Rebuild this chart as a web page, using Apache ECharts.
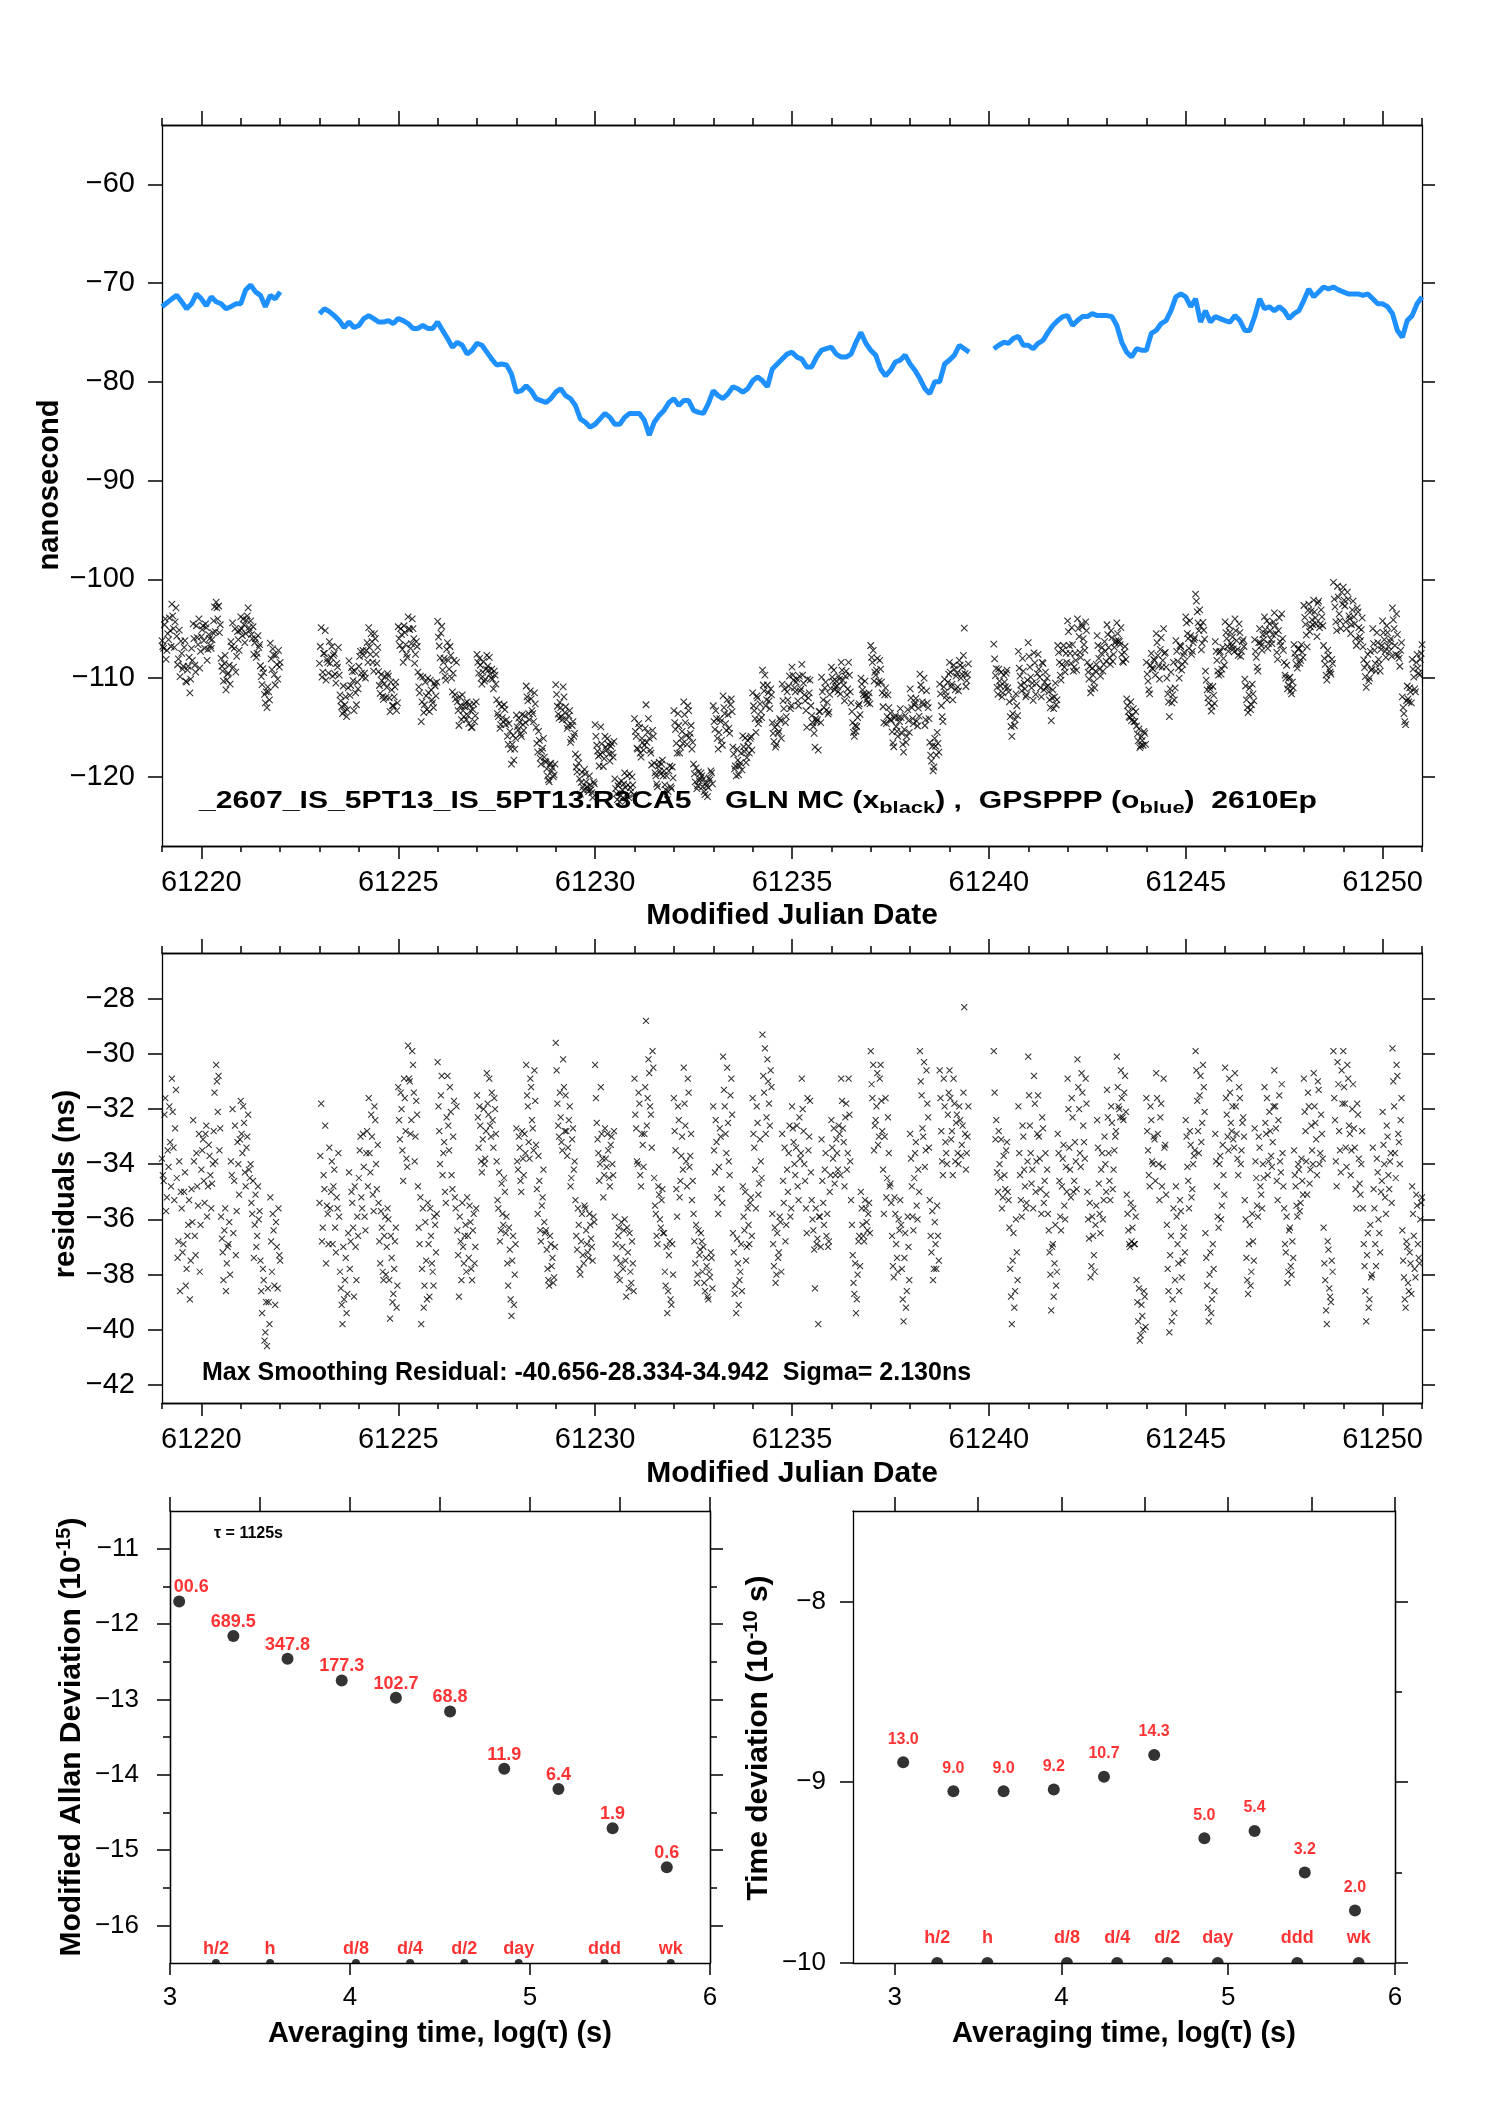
<!DOCTYPE html>
<html><head><meta charset="utf-8">
<script src="https://cdn.jsdelivr.net/npm/echarts@6/dist/echarts.min.js"></script>
<style>html,body{margin:0;padding:0;background:#fff}#c{width:1488px;height:2105px}</style>
</head><body><div id="c"></div>
<script>
const FONT = '"Liberation Sans", Arial, Helvetica, sans-serif';
const N = null;

// ---- time grid (MJD) ----
const mjdStart = 61219, mjdEnd = 61251;
const blueStep = 1 / 8;      // GPSPPP samples, every 3 h
const residStep = 1 / 24;    // residual samples, every 1 h (two interleaved sets, half an hour apart)

// ---- GPSPPP (blue), ns, one row per day ----
const blueNs = [
-72.4,-72.0,-71.6,-71.25,-71.9,-72.6,-72.1,-71.1,
-71.6,-72.3,-71.4,-71.9,-72.1,-72.6,-72.4,-72.1,
-72.1,-70.7,-70.2,-70.9,-71.25,-72.4,-71.25,-71.6,
-70.9,N,N,N,N,N,N,N,
-73.1,-72.6,-72.9,-73.3,-73.8,-74.5,-73.95,-74.5,
-74.3,-73.6,-73.3,-73.6,-73.95,-73.95,-73.8,-74.1,
-73.6,-73.8,-74.1,-74.6,-74.6,-74.3,-74.6,-74.6,
-73.95,-74.8,-75.6,-76.5,-76.0,-76.3,-77.2,-76.8,
-76.1,-76.3,-77.0,-77.7,-78.3,-78.2,-78.3,-79.2,
-81.05,-80.9,-80.4,-80.9,-81.7,-81.9,-82.1,-81.7,
-81.05,-80.7,-81.4,-81.7,-82.4,-83.75,-84.1,-84.6,
-84.3,-83.75,-83.2,-83.6,-84.3,-84.3,-83.6,-83.2,
-83.2,-83.2,-83.9,-85.4,-84.1,-83.4,-82.9,-82.1,
-81.7,-82.4,-81.9,-81.9,-82.9,-83.1,-83.2,-82.2,
-80.9,-81.4,-81.7,-81.2,-80.5,-80.7,-81.05,-80.7,
-79.9,-79.5,-79.9,-80.5,-78.7,-78.2,-77.7,-77.2,
-77.0,-77.5,-77.7,-78.5,-78.5,-77.5,-76.8,-76.65,
-76.5,-77.2,-77.5,-77.5,-77.2,-76.0,-75.0,-76.1,
-76.8,-77.3,-78.7,-79.4,-78.85,-78.0,-77.8,-77.3,
-78.2,-78.85,-79.7,-80.7,-81.2,-80.0,-80.0,-78.2,
-77.8,-77.3,-76.3,-76.65,-77.0,N,N,N,
N,-76.65,-76.3,-76.0,-76.1,-75.6,-75.4,-76.3,
-76.3,-76.65,-76.1,-75.8,-75.0,-74.3,-73.8,-73.4,
-73.3,-74.3,-73.8,-73.4,-73.4,-73.1,-73.3,-73.3,
-73.3,-73.4,-74.3,-76.0,-77.0,-77.5,-76.65,-76.8,
-76.8,-75.1,-74.8,-74.1,-73.8,-72.8,-71.4,-71.1,
-71.4,-72.4,-71.6,-73.95,-72.8,-73.95,-73.4,-73.6,
-73.8,-73.95,-73.3,-73.8,-74.8,-74.8,-73.4,-71.6,
-72.6,-72.4,-72.8,-72.4,-72.8,-73.6,-73.1,-72.8,
-71.75,-70.6,-71.4,-70.9,-70.4,-70.6,-70.4,-70.7,
-70.9,-71.1,-71.1,-71.1,-71.25,-71.1,-71.6,-72.1,
-72.1,-72.4,-73.1,-74.8,-75.5,-73.8,-73.3,-72.1,
-71.4
];

// ---- residuals (GLN MC minus GPSPPP), ns, on the hour, one row per day ----
const residNs = [
-33.8,-34.6,-31.6,-35.2,-34.1,-33.2,-30.9,-33.4,-32.7,-34.5,-36.8,-38.6,-35.6,-36.9,-34.3,-37.8,-36.2,-38.9,-34.9,-32.4,-36.6,-33.6,-35.5,-37.9,
-34.2,-33.1,-35.4,-32.6,-34.8,-33.7,-35.6,-34.0,-31.4,-30.4,-32.1,-33.5,-35.9,-37.2,-36.4,-38.6,-37.0,-36.1,-33.9,-32.0,-34.6,-37.3,-33.2,-35.1,
-31.7,-33.6,-32.5,-34.8,-33.0,-34.2,-34.0,-35.8,-37.4,-35.1,-36.6,-36.0,-37.5,-39.4,-38.2,-40.1,-40.6,-39.0,-35.2,-37.9,-36.4,-39.1,-37.0,-35.6,
-37.5,N,N,N,N,N,N,N,N,N,N,N,N,N,N,N,N,N,N,N,N,N,N,N,
-35.4,-31.8,-36.3,-34.9,-37.6,-35.8,-33.4,-35.0,-36.9,-34.2,-37.2,-35.6,-35.9,-38.5,-39.8,-38.9,-37.4,-38.7,-34.3,-36.8,-35.4,-38.8,-37.0,-35.9,
-34.5,-33.0,-35.6,-34.1,-36.4,-32.8,-31.6,-34.3,-33.0,-35.7,-32.4,-34.9,-35.4,-37.6,-36.3,-38.2,-35.9,-37.0,-36.0,-39.6,-37.4,-38.7,-36.8,-39.2,
-31.2,-33.1,-32.0,-34.6,-31.6,-33.8,-29.7,-31.0,-32.4,-30.4,-33.9,-31.7,-34.8,-36.9,-39.8,-35.6,-38.4,-37.5,-35.4,-38.8,-36.6,-37.9,-35.9,-37.2,
-30.3,-32.8,-31.5,-34.4,-33.2,-35.4,-30.8,-33.5,-32.1,-34.9,-31.7,-35.6,-36.4,-38.8,-36.8,-35.4,-37.6,-36.2,-35.2,-37.4,-36.1,-38.2,-35.8,-37.0,
-31.5,-33.4,-32.6,-34.3,-32.0,-33.8,-30.7,-32.2,-32.6,-31.4,-33.4,-32.0,-33.9,-35.6,-36.8,-34.7,-36.2,-35.0,-35.9,-38.4,-37.1,-39.5,-36.6,-38.0,
-32.7,-34.2,-33.4,-35.0,-33.8,-32.9,-30.4,-31.9,-33.8,-31.2,-32.7,-30.6,-33.3,-35.8,-34.6,-36.8,-35.2,-36.1,-36.4,-37.8,-38.4,-36.9,-37.4,-38.1,
-29.6,-31.8,-33.0,-32.3,-33.5,-31.2,-31.5,-33.7,-32.4,-34.8,-33.1,-34.2,-35.3,-37.1,-36.2,-38.0,-35.8,-37.6,-35.6,-36.9,-37.4,-36.2,-37.0,-35.9,
-30.4,-32.5,-33.6,-34.0,-32.9,-35.2,-32.7,-34.1,-33.5,-34.8,-33.0,-34.4,-35.9,-37.4,-36.6,-38.2,-36.1,-37.8,-36.0,-38.8,-37.2,-36.5,-38.3,-37.6,
-30.9,-32.7,-34.0,-31.8,-34.8,-33.3,-32.9,-28.8,-31.6,-30.7,-32.2,-29.9,-34.5,-35.8,-36.9,-35.1,-36.3,-34.9,-36.5,-38.4,-39.4,-37.3,-38.9,-36.9,
-31.6,-33.5,-35.9,-32.4,-34.6,-33.0,-30.5,-32.6,-34.8,-31.4,-33.7,-35.3,-35.8,-37.6,-38.3,-36.4,-37.1,-36.8,-37.0,-38.6,-37.7,-38.9,-38.1,-37.4,
-31.9,-34.3,-33.2,-35.8,-32.7,-34.9,-30.1,-31.9,-33.6,-32.5,-34.4,-30.9,-36.5,-38.7,-39.4,-37.6,-38.2,-36.9,-34.8,-36.4,-37.5,-35.6,-36.9,-35.2,
-31.6,-33.4,-35.6,-32.5,-34.7,-33.9,-29.3,-31.4,-32.9,-30.2,-31.8,-30.6,-35.8,-37.7,-38.3,-36.5,-37.2,-36.1,-32.9,-35.4,-36.8,-34.2,-33.6,-35.9,
-31.9,-33.2,-34.4,-32.6,-35.3,-33.8,-30.9,-32.8,-34.6,-36.5,-33.5,-31.7,-35.3,-36.4,-38.5,-36.9,-39.8,-35.9,-33.1,-35.4,-34.2,-36.6,-37.0,-35.0,
-32.4,-33.8,-34.7,-33.1,-34.2,-32.9,-30.9,-32.7,-34.8,-31.8,-33.6,-32.2,-35.3,-37.3,-38.7,-39.4,-38.0,-36.6,-35.0,-36.2,-36.8,-35.6,-36.4,-35.4,
-29.9,-31.6,-33.5,-32.4,-30.7,-33.0,-30.4,-32.8,-35.8,-31.6,-34.5,-33.6,-34.7,-36.6,-38.1,-35.8,-37.4,-36.0,-35.3,-37.8,-39.7,-36.5,-38.6,-37.0,
-32.9,-34.8,-36.4,-33.6,-35.5,-34.2,-29.9,-31.5,-33.0,-34.1,-30.6,-32.3,-35.3,-37.2,-38.2,-36.1,-37.8,-36.6,-30.6,-32.8,-34.4,-31.9,-33.6,-32.2,
-30.6,-33.1,-34.4,-31.8,-32.5,-33.6,-31.9,-33.7,-32.6,-28.3,-34.2,-33.0,N,N,N,N,N,N,N,N,N,N,N,N,
N,N,N,-29.9,-33.1,-34.3,-32.8,-34.5,-35.6,-33.7,-34.9,-33.2,-35.3,-37.8,-39.8,-36.5,-38.6,-37.2,-31.9,-34.4,-35.9,-33.0,-34.8,-35.4,
-30.1,-32.6,-34.7,-35.6,-31.8,-33.9,-31.5,-33.8,-35.8,-32.7,-34.6,-35.1,-35.8,-37.2,-39.3,-36.9,-37.6,-38.4,-32.9,-34.6,-36.4,-33.8,-35.5,-34.1,
-30.9,-33.4,-35.2,-32.3,-34.6,-33.9,-30.2,-32.0,-34.1,-31.4,-33.2,-30.9,-35.0,-36.7,-38.1,-35.9,-37.3,-36.2,-32.4,-34.7,-36.5,-33.6,-35.3,-34.0,
-31.3,-33.6,-35.3,-32.5,-34.2,-33.0,-30.1,-31.9,-32.3,-31.6,-32.4,-30.8,-35.1,-36.4,-37.0,-36.8,-35.6,-36.9,-38.2,-39.7,-40.4,-39.1,-40.0,-38.8,
-31.6,-33.5,-34.8,-32.4,-34.0,-33.1,-30.7,-32.9,-35.3,-31.8,-34.1,-33.4,-35.1,-37.8,-40.1,-36.6,-38.9,-39.4,-34.8,-36.9,-38.6,-35.7,-37.5,-36.3,
-32.4,-34.1,-35.6,-33.3,-34.9,-33.7,-29.9,-31.7,-33.6,-30.8,-32.5,-31.2,-36.5,-38.4,-39.7,-37.2,-38.9,-37.8,-32.9,-34.8,-36.3,-33.7,-35.5,-34.4,
-30.5,-32.2,-33.5,-31.4,-32.8,-33.1,-30.7,-32.9,-34.4,-31.6,-33.5,-32.3,-35.3,-37.4,-38.7,-36.2,-37.9,-36.8,-32.7,-34.5,-35.9,-33.4,-35.1,-34.0,
-31.2,-32.9,-34.4,-32.1,-33.7,-33.2,-30.6,-32.7,-35.3,-31.5,-34.3,-33.6,-35.6,-37.2,-38.3,-36.4,-37.7,-36.8,-33.5,-34.8,-35.9,-34.2,-35.4,-34.6,
-30.9,-32.8,-35.1,-31.9,-34.2,-33.5,-30.7,-32.5,-34.4,-31.3,-33.6,-32.9,-36.3,-38.2,-39.8,-37.1,-38.8,-37.5,-29.9,-32.4,-34.8,-31.1,-33.5,-30.6,
-29.9,-31.8,-34.1,-30.9,-32.9,-33.5,-31.1,-33.4,-35.6,-32.2,-34.7,-34.0,-35.6,-37.7,-39.7,-36.5,-38.9,-38.1,-33.4,-35.6,-37.7,-34.3,-36.5,-35.0,
-32.1,-34.0,-35.8,-33.0,-34.9,-33.6,-29.8,-31.9,-34.5,-30.8,-33.2,-32.4,-36.4,-38.1,-39.2,-37.0,-38.6,-37.6,-34.8,-36.6,-38.1,-35.5,-37.4,-36.0,
-35.2
];

// ---- residuals on the half hour, one row per day ----
const residNsHalf = [
-34.4,-32.2,-35.7,-33.5,-31.9,-34.8,-32.1,-35.3,-31.3,-37.4,-33.9,-35.0,-37.2,-35.0,-38.4,-36.6,-35.3,-37.5,-36.1,-33.9,-37.3,-34.8,-32.9,-36.2,
-33.5,-34.6,-32.9,-35.9,-33.3,-34.4,-34.7,-32.8,-33.9,-31.0,-30.8,-32.7,-36.7,-38.2,-35.6,-37.6,-36.9,-38.0,-34.4,-36.5,-32.6,-35.7,-34.0,-33.1,
-32.9,-31.9,-34.3,-33.4,-32.2,-34.5,-35.4,-34.6,-36.2,-37.0,-34.8,-35.7,-38.6,-37.8,-40.4,-39.0,-38.5,-39.8,-36.8,-35.8,-38.4,-36.1,-38.5,-37.3,
N,N,N,N,N,N,N,N,N,N,N,N,N,N,N,N,N,N,N,N,N,N,N,N,
-33.7,-36.8,-34.4,-32.6,-35.5,-36.9,-35.6,-33.9,-34.8,-36.3,-35.2,-33.6,-37.9,-39.1,-37.0,-38.2,-39.4,-36.5,-37.8,-35.0,-36.3,-34.8,-38.2,-36.6,
-33.5,-35.2,-32.9,-35.9,-33.6,-34.8,-33.6,-32.2,-35.1,-31.9,-34.0,-33.3,-36.8,-35.7,-37.9,-36.6,-38.0,-35.6,-38.2,-36.6,-39.0,-37.8,-36.3,-38.4,
-32.4,-31.4,-33.5,-30.9,-32.8,-34.1,-30.9,-32.9,-29.9,-31.4,-33.0,-32.2,-36.3,-35.2,-37.8,-39.2,-36.1,-38.9,-36.9,-35.6,-37.6,-38.4,-36.2,-35.8,
-31.9,-34.0,-30.8,-33.6,-35.0,-32.3,-32.6,-31.2,-34.4,-33.0,-35.2,-31.9,-37.3,-35.9,-38.2,-37.0,-36.6,-37.9,-36.6,-35.5,-37.8,-36.4,-37.6,-35.6,
-32.3,-31.9,-33.9,-33.1,-34.0,-32.8,-31.8,-30.9,-33.0,-32.4,-31.6,-32.9,-35.3,-34.3,-36.4,-35.8,-34.5,-36.5,-37.6,-36.3,-38.9,-37.5,-39.1,-36.9,
-33.9,-33.0,-34.6,-32.8,-34.4,-33.6,-31.5,-33.2,-30.9,-32.4,-33.5,-31.7,-34.9,-33.7,-36.4,-35.5,-34.2,-36.5,-37.1,-38.2,-36.6,-37.7,-38.3,-37.0,
-30.6,-32.6,-31.4,-33.2,-30.2,-32.8,-32.8,-33.4,-31.9,-34.5,-32.7,-33.9,-36.6,-35.6,-37.8,-36.8,-37.3,-35.5,-36.4,-37.2,-35.8,-36.7,-37.5,-36.1,
-31.6,-33.1,-34.6,-31.2,-33.8,-34.4,-33.8,-32.9,-34.5,-33.3,-34.0,-32.8,-36.9,-38.0,-36.3,-37.6,-37.0,-36.4,-37.5,-36.3,-38.5,-37.9,-36.8,-38.6,
-32.2,-33.9,-31.4,-34.4,-32.9,-34.1,-31.2,-32.6,-30.2,-31.9,-33.4,-30.5,-35.5,-36.6,-34.8,-36.0,-35.3,-36.5,-37.9,-37.0,-38.6,-36.8,-39.1,-38.0,
-32.8,-34.9,-31.9,-35.2,-33.7,-34.2,-31.8,-33.9,-30.9,-34.1,-32.9,-34.6,-36.8,-36.2,-38.0,-37.3,-36.5,-37.9,-38.3,-37.4,-38.8,-37.9,-37.2,-38.5,
-33.5,-32.4,-35.2,-34.1,-33.0,-35.4,-31.3,-32.9,-30.5,-33.9,-31.5,-32.2,-37.2,-38.4,-36.7,-39.1,-37.9,-38.6,-35.9,-35.0,-37.0,-36.2,-35.4,-36.6,
-32.9,-34.2,-31.9,-35.1,-33.1,-34.5,-30.8,-29.8,-32.3,-31.0,-32.6,-31.2,-36.9,-36.3,-38.0,-37.4,-35.9,-37.9,-34.6,-33.4,-36.2,-35.0,-32.6,-35.6,
-32.7,-34.0,-33.4,-34.8,-32.3,-33.6,-32.0,-34.0,-35.6,-31.6,-33.0,-34.3,-36.0,-37.1,-35.6,-36.7,-35.9,-37.0,-34.6,-36.2,-33.6,-35.8,-36.8,-34.4,
-33.4,-32.7,-34.4,-33.6,-32.6,-34.4,-31.7,-33.2,-32.3,-34.2,-30.9,-33.9,-36.2,-38.3,-37.6,-38.9,-36.8,-37.7,-35.6,-36.6,-35.3,-36.1,-35.8,-36.5,
-31.1,-30.4,-32.6,-31.9,-33.3,-30.9,-31.7,-34.2,-33.0,-35.2,-32.3,-34.8,-35.4,-37.7,-35.2,-36.9,-37.9,-36.4,-36.2,-38.9,-37.4,-39.2,-35.9,-38.2,
-33.8,-35.9,-34.5,-33.2,-36.0,-35.0,-31.0,-32.7,-30.3,-33.5,-31.8,-33.4,-36.6,-35.7,-37.8,-36.9,-35.5,-37.5,-31.6,-33.9,-30.9,-33.2,-34.0,-31.4,
-31.6,-32.8,-30.9,-33.9,-32.2,-34.0,-32.4,-33.3,-31.4,-32.9,-33.6,-31.9,N,N,N,N,N,N,N,N,N,N,N,N,
N,N,N,-31.4,-32.4,-35.0,-34.0,-33.1,-35.2,-34.4,-33.5,-35.0,-36.3,-38.8,-37.5,-39.2,-36.0,-38.2,-33.6,-35.3,-32.6,-34.2,-35.6,-33.9,
-31.5,-33.6,-34.2,-30.8,-35.0,-32.9,-33.0,-34.9,-32.3,-35.4,-33.6,-34.2,-36.4,-38.0,-37.0,-38.8,-36.2,-37.9,-33.6,-35.9,-34.8,-33.3,-36.0,-35.0,
-32.0,-34.2,-31.6,-35.0,-33.2,-34.9,-31.2,-33.6,-30.7,-32.6,-33.8,-31.8,-36.0,-35.4,-37.7,-36.6,-37.9,-35.5,-33.4,-35.8,-34.2,-36.0,-33.0,-35.0,
-32.3,-34.6,-31.9,-34.9,-33.5,-32.8,-31.2,-32.0,-30.6,-32.3,-31.4,-32.1,-35.8,-36.9,-35.4,-36.3,-36.9,-35.9,-39.0,-38.5,-40.2,-39.5,-38.6,-39.9,
-32.8,-34.4,-31.9,-33.9,-33.0,-34.6,-31.6,-34.0,-32.3,-34.8,-30.9,-33.3,-36.2,-38.6,-37.3,-39.7,-35.6,-38.2,-35.9,-37.6,-35.3,-38.1,-36.6,-37.2,
-33.0,-34.6,-32.8,-35.2,-34.0,-33.5,-30.6,-32.8,-31.5,-33.2,-30.4,-32.1,-37.4,-39.2,-38.0,-39.4,-36.9,-38.6,-33.9,-35.9,-34.0,-36.0,-33.3,-35.1,
-31.6,-33.0,-30.9,-32.5,-31.9,-33.4,-31.9,-33.8,-31.2,-34.0,-32.5,-33.0,-36.0,-38.2,-36.9,-38.4,-35.8,-37.5,-33.9,-35.5,-33.0,-34.8,-35.6,-34.5,
-32.5,-31.6,-33.9,-32.8,-34.1,-31.9,-31.9,-34.6,-32.4,-33.9,-31.1,-34.8,-36.9,-35.9,-37.9,-36.3,-38.0,-37.4,-34.4,-35.5,-34.0,-35.7,-33.8,-35.1,
-32.1,-33.9,-31.4,-34.7,-32.6,-34.0,-31.9,-33.1,-31.0,-34.0,-32.2,-33.8,-37.6,-39.3,-36.8,-38.5,-39.0,-37.9,-31.6,-33.9,-30.3,-32.8,-34.3,-31.8,
-31.2,-33.4,-30.4,-32.6,-34.4,-32.0,-32.7,-34.9,-31.8,-33.8,-35.1,-32.8,-36.9,-38.6,-37.3,-39.2,-36.2,-38.0,-34.9,-36.9,-33.8,-36.0,-37.2,-34.6,
-33.3,-35.2,-32.6,-34.4,-33.9,-35.4,-31.0,-33.6,-30.4,-32.9,-34.0,-31.6,-37.5,-38.9,-36.8,-38.3,-37.2,-38.7,-35.8,-37.8,-35.1,-36.9,-37.6,-35.4
];

// ---- stability plots ----
const logTau = [3.051, 3.352, 3.653, 3.954, 4.255, 4.556, 4.857, 5.158, 5.459, 5.760];
const modAdev = [-11.70, -12.16, -12.46, -12.75, -12.98, -13.16, -13.92, -14.19, -14.71, -15.23];
const modAdevLabels = ['00.6', '689.5', '347.8', '177.3', '102.7', '68.8', '11.9', '6.4', '1.9', '0.6'];
const tdev = [-8.89, -9.05, -9.05, -9.04, -8.97, -8.85, -9.31, -9.27, -9.50, -9.71];
const tdevLabels = ['13.0', '9.0', '9.0', '9.2', '10.7', '14.3', '5.0', '5.4', '3.2', '2.0'];
const markNames = ['h/2', 'h', 'd/8', 'd/4', 'd/2', 'day', 'ddd', 'wk'];
const markLogTau = [3.255, 3.556, 4.033, 4.334, 4.635, 4.937, 5.414, 5.782];

// ---- tick values ----
const mjdMajor = [61220, 61225, 61230, 61235, 61240, 61245, 61250];
const mjdMinor = []; for (let d = mjdStart; d <= mjdEnd; d++) mjdMinor.push(d);
const nsTicks = [-120, -110, -100, -90, -80, -70, -60];
const residTicks = [-42, -40, -38, -36, -34, -32, -30, -28];
const adevTicks = [-16, -15, -14, -13, -12, -11];
const adevHalf = [-15.5, -14.5, -13.5, -12.5, -11.5];
const tdevTicks = [-10, -9, -8];
const tdevHalf = [-9.5, -8.5];
const logMajor = [3, 4, 5, 6];
const logHalf = [3, 3.5, 4, 4.5, 5, 5.5, 6];

// ---- build point lists ----
const bluePts = blueNs.map((v, k) => [mjdStart + k * blueStep, v == null ? '-' : v]);
const residPts = [], blackPts = [];
function addResid(arr, shift) {
  arr.forEach((r, i) => {
    if (r == null) return;
    const t = mjdStart + (i + shift) * residStep;
    residPts.push([t, r]);
    const b = blueNs[Math.floor(i / 3)];
    if (b != null) blackPts.push([t, +(b + r).toFixed(2)]);
  });
}
addResid(residNs, 0);
addResid(residNsHalf, 0.5);

const minusFmt = v => (v < 0 ? '\u2212' : '') + Math.abs(v);
const lineSt = { color: '#000', width: 1.3 };
function axis(gridIndex, position, min, max, ticks, len, label) {
  return {
    type: 'value', gridIndex, position, min, max,
    splitLine: { show: false }, minorTick: { show: false },
    axisLine: { show: true, onZero: false, lineStyle: lineSt },
    axisTick: ticks ? { show: true, inside: false, length: len, customValues: ticks, lineStyle: { color: '#000', width: 1.5 } } : { show: false },
    axisLabel: label ? Object.assign({ show: true, customValues: ticks, color: '#000', fontFamily: FONT }, label) : { show: false }
  };
}
const mjdLabel = { fontSize: 29, margin: 22, formatter: v => String(v) };

const xAxis = [
  axis(0, 'bottom', mjdStart, mjdEnd, mjdMajor, 13, mjdLabel),   //0
  axis(0, 'bottom', mjdStart, mjdEnd, mjdMinor, 6),              //1
  axis(0, 'top', mjdStart, mjdEnd, mjdMajor, 14),                //2
  axis(0, 'top', mjdStart, mjdEnd, mjdMinor, 7),                 //3
  axis(1, 'bottom', mjdStart, mjdEnd, mjdMajor, 13, mjdLabel),   //4
  axis(1, 'bottom', mjdStart, mjdEnd, mjdMinor, 6),              //5
  axis(1, 'top', mjdStart, mjdEnd, mjdMajor, 14),                //6
  axis(1, 'top', mjdStart, mjdEnd, mjdMinor, 7),                 //7
  axis(2, 'bottom', 3, 6, logMajor, 12, { fontSize: 26, margin: 22 }), //8
  axis(2, 'top', 3, 6, logHalf, 14),                             //9
  axis(3, 'bottom', 2.75, 6, logMajor, 12, { fontSize: 26, margin: 22 }), //10
  axis(3, 'top', 2.75, 6, logHalf, 14)                           //11
];
const yAxis = [
  axis(0, 'left', -127, -54, nsTicks, 14, { fontSize: 29, margin: 27, formatter: minusFmt }), //0
  axis(0, 'right', -127, -54, nsTicks, 13),                       //1
  axis(1, 'left', -42.66, -26.34, residTicks, 14, { fontSize: 29, margin: 27, formatter: minusFmt }), //2
  axis(1, 'right', -42.66, -26.34, residTicks, 13),               //3
  axis(2, 'left', -16.5, -10.5, adevTicks, 13, { fontSize: 26, margin: 31, formatter: minusFmt }), //4
  axis(2, 'left', -16.5, -10.5, adevHalf, 7),                     //5
  axis(2, 'right', -16.5, -10.5, adevTicks, 13),                  //6
  axis(2, 'right', -16.5, -10.5, adevHalf, 7),                    //7
  axis(3, 'left', -10, -7.5, tdevTicks, 13, { fontSize: 26, margin: 27, formatter: minusFmt }), //8
  axis(3, 'right', -10, -7.5, tdevTicks, 13),                     //9
  axis(3, 'right', -10, -7.5, tdevHalf, 7)                        //10
];

const grid = [
  { left: 162, top: 125, width: 1260, height: 721 },
  { left: 162, top: 953, width: 1260, height: 450 },
  { left: 170, top: 1511, width: 540, height: 452 },
  { left: 853, top: 1511, width: 542, height: 452 }
].map(g => Object.assign({ containLabel: false, outerBoundsMode: 'none', show: false }, g));

const xMark = 'path://M0,0L10,10M10,0L0,10';
const halfDisk = 'path://M0,10A10,10 0 0 1 20,10Z';
const redLab = (size, dist, names) => ({
  show: true, position: 'top', distance: dist, color: '#ff0000', fontWeight: 'bold', fontSize: size, fontFamily: FONT,
  formatter: p => names[p.dataIndex]
});

const series = [
  { type: 'line', xAxisIndex: 0, yAxisIndex: 0, data: bluePts, showSymbol: false, symbol: 'none',
    lineStyle: { color: '#1e90ff', width: 5 }, connectNulls: false, z: 3 },
  { type: 'scatter', xAxisIndex: 0, yAxisIndex: 0, data: blackPts, symbol: xMark, symbolSize: 6.5, large: false,
    itemStyle: { color: 'rgba(0,0,0,0)', borderColor: '#000', borderWidth: 1.1 } },
  { type: 'scatter', xAxisIndex: 4, yAxisIndex: 2, data: residPts, symbol: xMark, symbolSize: 6, large: false,
    itemStyle: { color: 'rgba(0,0,0,0)', borderColor: '#000', borderWidth: 1.05 } },
  { type: 'scatter', xAxisIndex: 8, yAxisIndex: 4, symbolSize: 12, itemStyle: { color: '#000' },
    data: logTau.map((x, i) => i === 0 ? { value: [x, modAdev[i]], label: { offset: [12, 0] } } : [x, modAdev[i]]),
    label: redLab(18, -1, modAdevLabels) },
  { type: 'scatter', xAxisIndex: 8, yAxisIndex: 4, symbol: halfDisk, symbolSize: [8, 4], symbolOffset: [0, -2],
    itemStyle: { color: '#000' }, data: markLogTau.map(x => [x, -16.5]), label: redLab(18, 1, markNames) },
  { type: 'scatter', xAxisIndex: 10, yAxisIndex: 8, symbolSize: 12, itemStyle: { color: '#000' },
    data: logTau.map((x, i) => [x, tdev[i]]), label: redLab(16, 9, tdevLabels) },
  { type: 'scatter', xAxisIndex: 10, yAxisIndex: 8, symbol: halfDisk, symbolSize: [12, 6], symbolOffset: [0, -3],
    itemStyle: { color: '#000' }, data: markLogTau.map(x => [x, -10]), label: redLab(18, 10, markNames) }
];

function txt(x, y, text, size, extra, styleExtra) {
  return Object.assign({ type: 'text', x, y, silent: true,
    style: Object.assign({ legacy: false, text, fill: '#000', fontSize: size, fontWeight: 'bold', fontFamily: FONT,
      align: 'center', verticalAlign: 'middle' }, styleExtra || {}) }, extra || {});
}
const supStyle = { fontSize: 20, fontWeight: 'bold', fontFamily: FONT, fill: '#000', lineHeight: 20, verticalAlign: 'top' };
const subStyle = { fontSize: 16, fontWeight: 'bold', fontFamily: FONT, fill: '#000', lineHeight: 14, verticalAlign: 'bottom' };
const mainStyle = { fontSize: 22, fontWeight: 'bold', fontFamily: FONT, fill: '#000', lineHeight: 30 };

const graphic = [
  txt(792, 916, 'Modified Julian Date', 30),
  txt(792, 1474, 'Modified Julian Date', 30),
  txt(50, 485, 'nanosecond', 29, { rotation: Math.PI / 2 }),
  txt(66, 1184, 'residuals (ns)', 29, { rotation: Math.PI / 2 }),
  txt(199, 801, '{a|_2607_IS_5PT13_IS_5PT13.R3CA5    GLN MC (x}{s|black}{a|) ,  GPSPPP (o}{s|blue}{a|)  2610Ep}', 22,
      { scaleX: 1.37, scaleY: 1.08 }, { align: 'left', rich: { a: mainStyle, s: subStyle } }),
  txt(202, 1373, 'Max Smoothing Residual: -40.656-28.334-34.942  Sigma= 2.130ns', 25, null, { align: 'left' }),
  txt(214, 1534, '\u03c4 = 1125s', 16, null, { align: 'left' }),
  txt(72, 1737, 'Modified Allan Deviation (10{p|-15})', 30, { rotation: Math.PI / 2 }, { lineHeight: 36, rich: { p: supStyle } }),
  txt(440, 2034, 'Averaging time, log(\u03c4) (s)', 29),
  txt(759, 1738, 'Time deviation (10{p|-10} s)', 30, { rotation: Math.PI / 2 }, { lineHeight: 36, rich: { p: supStyle } }),
  txt(1124, 2034, 'Averaging time, log(\u03c4) (s)', 29)
];

const chart = echarts.init(document.getElementById('c'), null, { renderer: 'canvas' });
chart.setOption({
  backgroundColor: '#fff', animation: false, textStyle: { fontFamily: FONT },
  grid, xAxis, yAxis, series, graphic
});
</script></body></html>
